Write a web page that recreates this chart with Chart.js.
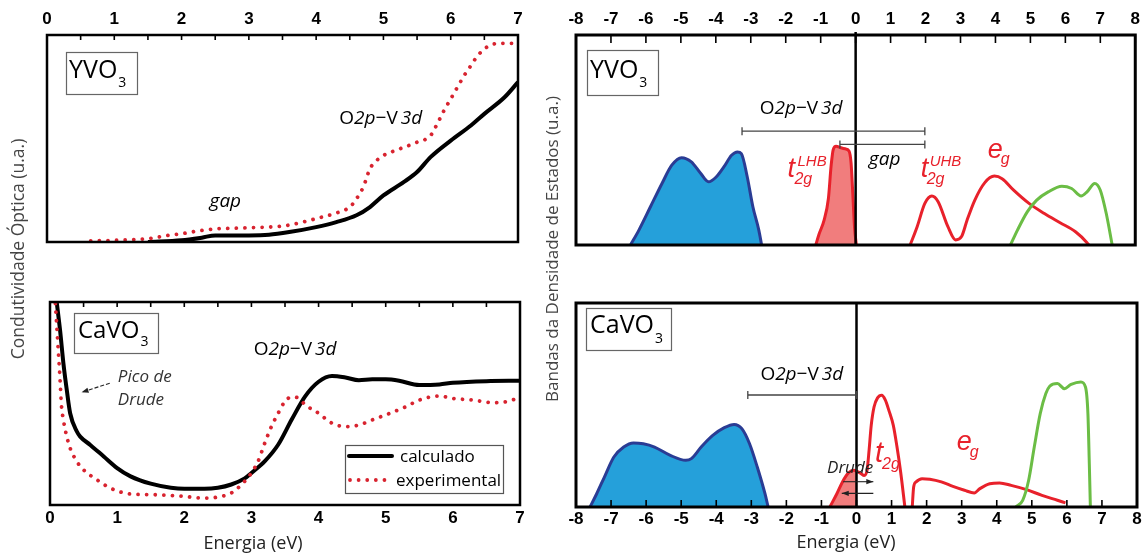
<!DOCTYPE html>
<html><head><meta charset="utf-8">
<script src="https://cdn.jsdelivr.net/npm/chart.js@4.4.1/dist/chart.umd.min.js"></script>
<style>
html,body{margin:0;padding:0;background:#fff;}
body{width:1145px;height:556px;position:relative;overflow:hidden;}
canvas{position:absolute;left:0;top:0;}
</style></head><body>
<canvas id="cA" width="1145" height="556"></canvas>
<canvas id="cB" width="1145" height="556"></canvas>
<canvas id="cC" width="1145" height="556"></canvas>
<canvas id="cD" width="1145" height="556"></canvas>
<script>
// ---------- DATA ----------
// Left: optical conductivity, energy axis 0..7 eV
const leftTicks = [0,1,2,3,4,5,6,7];
const yvoCalcX = [1.5,2.0,2.3,2.5,3.0,3.3,3.6,4.0,4.3,4.6,4.8,5.0,5.3,5.5,5.7,6.0,6.3,6.5,6.8,7.0];
const yvoCalcY = [0,0.8,2.1,3.2,3.2,3.5,4.8,7.2,9.6,12.9,16.9,22.5,28.9,33.8,41.0,49.0,56.3,61.9,69.9,77.2];
const yvoExpX = [0.65,1.0,1.5,1.8,2.0,2.3,2.5,3.0,3.5,3.8,4.0,4.3,4.5,4.6,4.7,4.8,4.9,5.0,5.2,5.5,5.7,5.8,5.9,6.0,6.1,6.2,6.3,6.4,6.5,6.6,6.8,7.0];
const yvoExpY = [0.5,0.8,1.6,3.2,4.0,5.6,6.3,6.9,7.7,9.6,11.3,14.0,16.9,20.9,26.5,35.4,39.4,41.8,44.5,48.2,51.4,57.1,63.5,69.1,74.8,80.4,85.2,90.0,93.2,95.3,96.0,96.0];
const caCalcX = [0.08,0.1,0.15,0.2,0.25,0.3,0.4,0.45,0.6,0.8,1.0,1.2,1.5,1.8,2.0,2.3,2.5,2.7,2.9,3.0,3.2,3.4,3.6,3.8,4.0,4.2,4.4,4.6,4.8,5.0,5.2,5.5,5.8,6.0,6.5,7.0];
const caCalcY = [106,100,86.1,69.7,56.6,45.2,36.2,33.7,29.6,23.9,18.2,14.1,10.5,8.5,8.0,8.0,8.5,10.1,13.1,15.8,21.6,29.8,42.1,53.5,60.7,63.5,62.8,61.5,61.9,61.9,61.2,59.1,59.4,60.2,61.0,61.2];
const caExpX = [0.08,0.12,0.15,0.17,0.2,0.25,0.3,0.4,0.5,0.7,0.9,1.2,1.5,1.8,2.0,2.3,2.5,2.7,2.85,3.0,3.1,3.2,3.3,3.4,3.5,3.6,3.7,3.8,4.0,4.2,4.4,4.6,4.8,5.0,5.3,5.5,5.8,6.0,6.3,6.6,6.8,7.0];
const caExpY = [99.2,77.9,61.5,49.3,41.9,33.7,28.0,21.4,17.3,12.4,8.3,5.4,5.1,4.7,4.2,3.4,3.9,5.9,10.0,15.8,21.6,30.6,38.8,45.3,51.1,53.2,52.7,49.4,45.2,40.3,38.6,39.4,41.9,44.4,48.4,51.7,53.7,52.5,51.7,50.4,50.9,53.0];

// Right: density of states, energy axis -8..8 eV
const rightTicks = [-8,-7,-6,-5,-4,-3,-2,-1,0,1,2,3,4,5,6,7,8];
const yO2pX = [-6.44,-6.2,-5.87,-5.54,-5.26,-4.98,-4.7,-4.43,-4.21,-3.99,-3.77,-3.55,-3.38,-3.27,-3.1,-2.94,-2.77,-2.69];
const yO2pY = [0,7.1,18.2,29.3,38.0,41.6,39.6,34.0,30.1,32.4,37.2,42.7,44.3,43.5,32.4,18.2,7.1,0];
const yLhbX = [-1.14,-1.05,-0.9,-0.78,-0.7,-0.64,-0.56,-0.42,-0.3,-0.19,-0.13,-0.08,-0.03,0.02];
const yLhbY = [0,5,12,22,38,45.5,47,46.3,45.8,44.8,39,24,8,0];
const yUhbX = [1.56,1.76,1.98,2.18,2.36,2.64,2.86,3.03,3.19,3.41,3.69,3.97,4.19,4.52,4.96,5.4,5.85,6.29,6.62,6.67];
const yUhbY = [0,8.7,19.8,23.3,20.6,8.7,2.4,4.0,11.9,21.4,29.6,32.8,31.6,26.1,19.8,15.0,10.6,6.3,1.1,0];
const yEgX = [4.43,4.63,4.91,5.18,5.51,5.9,6.18,6.45,6.62,6.84,7.0,7.17,7.34];
const yEgY = [0,7.1,15.8,21.4,25.3,28.0,26.9,23.3,25.3,29.3,26.1,15.0,0];

const cO2pX = [-7.6,-7.41,-7.19,-6.92,-6.64,-6.36,-6.08,-5.76,-5.31,-4.87,-4.71,-4.43,-4.1,-3.77,-3.49,-3.27,-3.05,-2.83,-2.61,-2.52];
const cO2pY = [0,6.5,14.7,24.5,29.4,31.4,31.0,29.4,25.3,22.9,23.7,29.4,35.1,38.9,40.5,38.4,31.0,19.6,6.5,0];
const cDrudeX = [-0.76,-0.56,-0.4,-0.23,-0.07,0.0];
const cDrudeY = [0,6.5,12.3,16.7,18.0,17.6];
const cT2gX = [0.0,0.12,0.22,0.3,0.36,0.42,0.5,0.6,0.72,0.82,0.93,1.05,1.15,1.26,1.38];
const cT2gY = [17.6,16.5,15.5,18,28,40,49,53.5,54.8,52.5,47,40,30,17,0];
const cEgRedX = [1.59,1.63,1.7,1.87,2.09,2.42,2.75,3.08,3.36,3.52,3.8,4.08,4.41,4.85,5.29,5.73,5.96];
const cEgRedY = [0,9.8,12.3,13.9,13.6,12.3,10.1,8.2,6.9,9.0,11.4,11.8,10.6,8.5,5.7,3.3,2.0];
const cEgGreenX = [4.54,4.74,4.91,5.07,5.24,5.4,5.51,5.73,5.93,6.12,6.4,6.53,6.6,6.64,6.67];
const cEgGreenY = [0,3.3,13.1,29.4,45.8,55.6,59.2,60.5,58.0,60.1,61.3,58.8,45.8,21.2,0];

const seriesNames = ['calculado','experimental'];

// ---------- STYLE ----------
const RED_DOT = '#d8232f', RED = '#e8212b', BLUE_F = '#25a0da', BLUE_L = '#2a3c94', PINK = '#f17d7d', GREEN = '#6bbd45';
const OS = '"Open Sans", "DejaVu Sans", sans-serif';
const LS = '"Liberation Sans", Arial, sans-serif';
const N19 = '19px ' + OS, I19 = 'italic 19px ' + OS;
const formula = [{t:'O',f:N19},{t:'2p',f:I19},{t:'\u2212',f:N19},{t:'V',f:N19,sp:3},{t:'3d',f:I19}];

function pts(xs, ys){ return xs.map((x,i)=>({x:x, y:ys[i]})); }
function ds(xs, ys, color, w, extra){
  return Object.assign({data: pts(xs,ys), borderColor: color, borderWidth: w, pointRadius: 0,
    fill: false, cubicInterpolationMode: 'monotone'}, extra || {});
}
const dotted = {borderDash:[0.01, 8.6], borderCapStyle:'round'};

function drawRich(ctx, x, y, parts, align){
  let w = 0;
  parts.forEach(p => { ctx.font = p.f; w += ctx.measureText(p.t).width + (p.sp||0); });
  let cx = align === 'center' ? x - w/2 : x;
  parts.forEach(p => {
    ctx.font = p.f; ctx.fillStyle = p.c || '#000';
    ctx.fillText(p.t, cx + (p.dx||0), y + (p.dy||0));
    cx += ctx.measureText(p.t).width + (p.sp||0);
  });
}

const deco = {
  id: 'deco',
  afterDatasetsDraw(chart, args, o) {
    const ctx = chart.ctx, a = chart.chartArea, xs = chart.scales.x, ys = chart.scales.y;
    const X = v => xs.getPixelForValue(v), Y = v => ys.getPixelForValue(v);
    ctx.save();
    ctx.textBaseline = 'alphabetic';
    ctx.textAlign = 'left';
    if (o.zero !== undefined) {
      ctx.beginPath(); ctx.lineWidth = 2.5; ctx.strokeStyle = '#000';
      ctx.moveTo(X(0), a.top - o.zero); ctx.lineTo(X(0), a.bottom); ctx.stroke();
    }
    (o.brackets || []).forEach(b => {
      const y = Y(b.y), x1 = X(b.x1), x2 = X(b.x2);
      ctx.beginPath(); ctx.lineWidth = 1.3; ctx.strokeStyle = '#444';
      ctx.moveTo(x1, y); ctx.lineTo(x2, y);
      ctx.moveTo(x1, y-4); ctx.lineTo(x1, y+4);
      ctx.moveTo(x2, y-4); ctx.lineTo(x2, y+4);
      ctx.stroke();
    });
    (o.arrows || []).forEach(ar => {
      const x1 = X(ar.x1), y1 = Y(ar.y1), x2 = X(ar.x2), y2 = Y(ar.y2);
      ctx.beginPath(); ctx.strokeStyle = '#222'; ctx.lineWidth = 1.1; ctx.setLineDash(ar.dash || []);
      ctx.moveTo(x1, y1); ctx.lineTo(x2, y2); ctx.stroke(); ctx.setLineDash([]);
      const ang = Math.atan2(y2-y1, x2-x1), L = 7, W = 2.6;
      ctx.beginPath(); ctx.fillStyle = '#222';
      ctx.moveTo(x2, y2);
      ctx.lineTo(x2 - L*Math.cos(ang) + W*Math.sin(ang), y2 - L*Math.sin(ang) - W*Math.cos(ang));
      ctx.lineTo(x2 - L*Math.cos(ang) - W*Math.sin(ang), y2 - L*Math.sin(ang) + W*Math.cos(ang));
      ctx.closePath(); ctx.fill();
    });
    // frame
    ctx.lineWidth = o.frame; ctx.strokeStyle = '#000';
    ctx.strokeRect(a.left, a.top, a.right - a.left, a.bottom - a.top);
    // inner ticks
    (o.ticks || []).forEach(t => {
      ctx.beginPath(); ctx.lineWidth = 1.6; ctx.strokeStyle = '#000';
      for (let v = xs.min; v <= xs.max + 1e-9; v += t.step) {
        const px = X(v), y0 = t.side === 'top' ? a.top : a.bottom, dir = t.side === 'top' ? 1 : -1;
        ctx.moveTo(px, y0); ctx.lineTo(px, y0 + dir * t.len);
      }
      ctx.stroke();
    });
    // material box
    if (o.box) {
      const b = o.box;
      ctx.lineWidth = 1.2; ctx.strokeStyle = '#666';
      ctx.strokeRect(a.left + b.dx + 0.5, a.top + b.dy + 0.5, b.w, b.h);
      ctx.font = b.size + 'px ' + OS; ctx.fillStyle = '#000';
      ctx.fillText(b.name, a.left + b.dx + b.tx, a.top + b.dy + b.ty);
      const w = ctx.measureText(b.name).width;
      ctx.font = '14px ' + OS;
      ctx.fillText('3', a.left + b.dx + b.tx + w + 1, a.top + b.dy + b.sy);
    }
    // texts
    (o.texts || []).forEach(t => drawRich(ctx, X(t.x), Y(t.y), t.parts, t.align));
    // composite labels (t2g, eg)
    (o.labels || []).forEach(l => {
      const bx = X(l.x), by = Y(l.y);
      l.items.forEach(it => { ctx.font = it.f; ctx.fillStyle = it.c || RED; ctx.fillText(it.t, bx + it.dx, by + it.dy); });
    });
    // legend
    if (o.legend) {
      const L = o.legend, lx = a.right - L.dr, ly = a.bottom - L.db;
      ctx.lineWidth = 1.2; ctx.strokeStyle = '#555';
      ctx.strokeRect(lx + 0.5, ly + 0.5, L.w, L.h);
      ctx.beginPath(); ctx.lineWidth = 4; ctx.strokeStyle = '#000'; ctx.lineCap = 'round';
      ctx.moveTo(lx + 4, ly + 11); ctx.lineTo(lx + 47, ly + 11); ctx.stroke();
      ctx.beginPath(); ctx.lineWidth = 3.8; ctx.strokeStyle = RED_DOT; ctx.setLineDash([0.01, 8.6]);
      ctx.moveTo(lx + 5, ly + 35); ctx.lineTo(lx + 46, ly + 35); ctx.stroke(); ctx.setLineDash([]);
      ctx.lineCap = 'butt';
      ctx.font = '17px ' + OS; ctx.fillStyle = '#000';
      ctx.fillText(L.names[0], lx + 55, ly + 17);
      ctx.fillText(L.names[1], lx + 51, ly + 41);
    }
    if (o.xtitle) {
      ctx.font = '18px ' + OS; ctx.fillStyle = '#222'; ctx.textAlign = 'center';
      ctx.fillText(o.xtitle.text, o.xtitle.x, o.xtitle.y);
      ctx.textAlign = 'left';
    }
    if (o.ytitle) {
      ctx.translate(o.ytitle.x, o.ytitle.y); ctx.rotate(-Math.PI/2);
      ctx.font = o.ytitle.size + 'px ' + OS; ctx.fillStyle = '#444'; ctx.textAlign = 'center'; ctx.textBaseline = 'middle';
      ctx.fillText(o.ytitle.text, 0, 0);
    }
    ctx.restore();
  }
};
Chart.register(deco);

function makeChart(id, cfg){
  return new Chart(document.getElementById(id), {
    type: 'line',
    data: {datasets: cfg.datasets},
    options: {
      responsive: false, animation: false, devicePixelRatio: 1,
      layout: {padding: cfg.pad},
      plugins: {legend: {display: false}, tooltip: {enabled: false}, deco: cfg.deco},
      scales: {
        x: {type: 'linear', position: cfg.pos, min: cfg.min, max: cfg.max,
            afterFit: s => { s.height = cfg.axisH; },
            afterBuildTicks: s => { s.ticks = cfg.tickVals.map(v => ({value: v})); },
            grid: {display: false, drawTicks: false}, border: {display: false},
            ticks: {padding: cfg.tpad, color: '#000', maxRotation: 0, autoSkip: false,
                    font: {family: 'Liberation Sans', weight: 'bold', size: 17}}},
        y: {display: false, min: 0, max: 100}
      }
    }
  });
}

// A: YVO3 optical conductivity
makeChart('cA', {
  pos: 'top', min: 0, max: 7, axisH: 35, tpad: 5, tickVals: leftTicks,
  pad: {left: 47, right: 627, top: 0, bottom: 314},
  datasets: [
    ds(yvoExpX, yvoExpY, RED_DOT, 3.8, dotted),
    ds(yvoCalcX, yvoCalcY, '#000', 4)
  ],
  deco: {
    frame: 2.5, ticks: [{side: 'top', step: 0.5, len: 5}],
    box: {dx: 19, dy: 17, w: 71, h: 42, name: 'YVO', size: 25, tx: 3, ty: 26, sy: 35},
    texts: [
      {x: 2.65, y: 17, align: 'center', parts: [{t: 'gap', f: I19}]},
      {x: 4.96, y: 57, align: 'center', parts: formula}
    ],
    ytitle: {x: 19, y: 249, size: 17.5, text: 'Condutividade \u00d3ptica (u.a.)'}
  }
});

// B: CaVO3 optical conductivity
makeChart('cB', {
  pos: 'bottom', min: 0, max: 7, axisH: 51, tpad: 3, tickVals: leftTicks,
  pad: {left: 50, right: 625, top: 302, bottom: 0},
  datasets: [
    ds(caExpX, caExpY, RED_DOT, 3.8, dotted),
    ds(caCalcX, caCalcY, '#000', 4)
  ],
  deco: {
    frame: 2.5, ticks: [{side: 'top', step: 0.5, len: 5}],
    box: {dx: 24, dy: 11, w: 84, h: 40, name: 'CaVO', size: 24, tx: 4, ty: 25, sy: 33},
    texts: [
      {x: 3.65, y: 73.9, align: 'center', parts: formula},
      {x: 1.01, y: 60.6, align: 'left', parts: [{t: 'Pico de', f: 'italic 17px ' + OS, c: '#333'}]},
      {x: 1.01, y: 49.3, align: 'left', parts: [{t: 'Drude', f: 'italic 17px ' + OS, c: '#333'}]}
    ],
    arrows: [{x1: 0.89, y1: 60, x2: 0.47, y2: 55.5, dash: [4, 2]}],
    legend: {dr: 175, db: 60, w: 158, h: 48, names: seriesNames},
    xtitle: {x: 253, y: 549, text: 'Energia (eV)'}
  }
});

// C: YVO3 DOS
const tFont = 'italic 27px ' + LS, supFont = 'italic 15px ' + LS, subFont = 'italic 16px ' + LS, eFont = 'italic 27px ' + LS;
makeChart('cC', {
  pos: 'top', min: -8, max: 8, axisH: 35, tpad: 5, tickVals: rightTicks,
  pad: {left: 576, right: 8, top: 0, bottom: 311},
  datasets: [
    ds(yO2pX, yO2pY, BLUE_L, 3, {fill: 'origin', backgroundColor: BLUE_F}),
    ds(yLhbX, yLhbY, RED, 3, {fill: 'origin', backgroundColor: PINK}),
    ds(yEgX, yEgY, GREEN, 3),
    ds(yUhbX, yUhbY, RED, 3)
  ],
  deco: {
    frame: 3, zero: 3, ticks: [{side: 'top', step: 1, len: 8}],
    box: {dx: 11, dy: 15, w: 71, h: 45, name: 'YVO', size: 25, tx: 3, ty: 28, sy: 37},
    brackets: [{x1: -3.25, x2: 1.98, y: 54.2}, {x1: -0.45, x2: 1.98, y: 47.9}],
    texts: [
      {x: -1.56, y: 62.4, align: 'center', parts: formula},
      {x: 0.83, y: 38, align: 'center', parts: [{t: 'gap', f: I19}]}
    ],
    labels: [
      {x: -1.95, y: 32.4, items: [{t: 't', f: tFont, dx: 0, dy: 0}, {t: 'LHB', f: supFont, dx: 10, dy: -11}, {t: '2g', f: subFont, dx: 7, dy: 7}]},
      {x: 1.86, y: 32.4, items: [{t: 't', f: tFont, dx: 0, dy: 0}, {t: 'UHB', f: supFont, dx: 9, dy: -11}, {t: '2g', f: subFont, dx: 6, dy: 7}]},
      {x: 3.78, y: 41.3, items: [{t: 'e', f: eFont, dx: 0, dy: 0}, {t: 'g', f: subFont, dx: 13, dy: 6}]}
    ],
    ytitle: {x: 553, y: 249, size: 17, text: 'Bandas da Densidade de Estados (u.a.)'}
  }
});

// D: CaVO3 DOS
makeChart('cD', {
  pos: 'bottom', min: -8, max: 8, axisH: 49, tpad: 2, tickVals: rightTicks,
  pad: {left: 576, right: 8, top: 303, bottom: 0},
  datasets: [
    ds(cO2pX, cO2pY, BLUE_L, 3, {fill: 'origin', backgroundColor: BLUE_F}),
    ds(cDrudeX, cDrudeY, RED, 3, {fill: 'origin', backgroundColor: PINK}),
    ds(cT2gX, cT2gY, RED, 3),
    ds(cEgGreenX, cEgGreenY, GREEN, 3),
    ds(cEgRedX, cEgRedY, RED, 3)
  ],
  deco: {
    frame: 3, zero: 0, ticks: [{side: 'bottom', step: 1, len: 7}],
    box: {dx: 10, dy: 5, w: 85, h: 42, name: 'CaVO', size: 25, tx: 4, ty: 25, sy: 35},
    brackets: [{x1: -3.1, x2: 0, y: 54.9}],
    texts: [
      {x: -1.56, y: 62.3, align: 'center', parts: formula},
      {x: -0.84, y: 16.6, align: 'left', parts: [{t: 'Drude', f: 'italic 17px ' + OS, c: '#222'}]}
    ],
    arrows: [
      {x1: -0.38, y1: 12.4, x2: 0.48, y2: 12.4},
      {x1: 0.48, y1: 6.7, x2: -0.42, y2: 6.7}
    ],
    labels: [
      {x: 0.53, y: 22.1, items: [{t: 't', f: 'italic 29px ' + LS, dx: 0, dy: 0}, {t: '2g', f: subFont, dx: 7, dy: 7}]},
      {x: 2.86, y: 27.9, items: [{t: 'e', f: eFont, dx: 0, dy: 0}, {t: 'g', f: subFont, dx: 13, dy: 7}]}
    ],
    xtitle: {x: 846, y: 548, text: 'Energia (eV)'}
  }
});
</script>
</body></html>
